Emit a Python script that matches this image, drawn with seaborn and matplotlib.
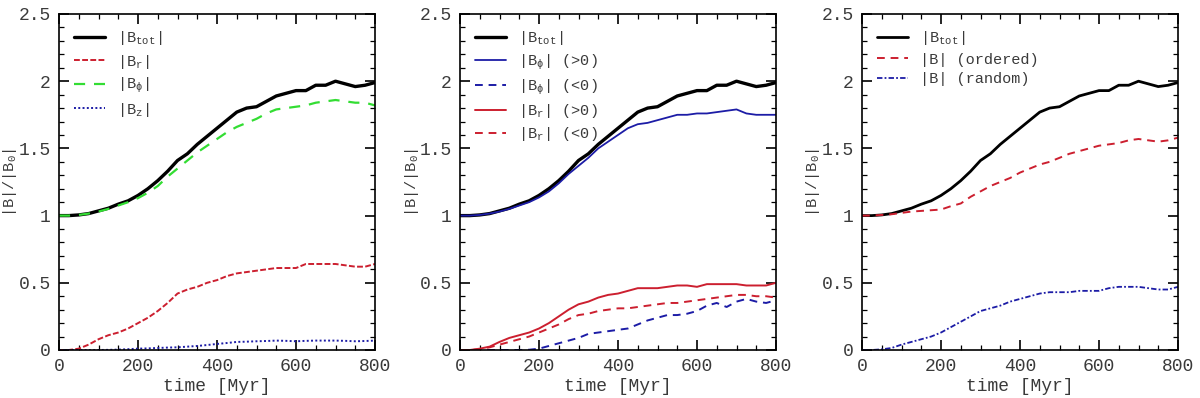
import numpy as np
import pandas as pd
import matplotlib
matplotlib.use("Agg")
import matplotlib.pyplot as plt
from matplotlib.ticker import MultipleLocator, FuncFormatter
import seaborn as sns

# ---------------- data ----------------
time = [0, 25, 50, 75, 100, 125, 150, 175, 200, 225, 250, 275, 300, 325, 350, 375, 400,
        425, 450, 475, 500, 525, 550, 575, 600, 625, 650, 675, 700, 725, 750, 775, 800]

b_tot = [1.00, 1.00, 1.005, 1.015, 1.035, 1.055, 1.085, 1.11, 1.15, 1.20, 1.26, 1.33, 1.41,
         1.46, 1.53, 1.59, 1.65, 1.71, 1.77, 1.80, 1.81, 1.85, 1.89, 1.91, 1.93, 1.93, 1.97,
         1.97, 2.00, 1.98, 1.96, 1.97, 1.99]

# panel 1
b_r = [0.0, 0.0, 0.01, 0.04, 0.08, 0.11, 0.13, 0.16, 0.20, 0.24, 0.29, 0.35, 0.42, 0.45,
       0.47, 0.50, 0.52, 0.55, 0.57, 0.58, 0.59, 0.60, 0.61, 0.61, 0.61, 0.64, 0.64, 0.64,
       0.64, 0.63, 0.62, 0.62, 0.64]
b_phi = [1.00, 1.00, 1.005, 1.015, 1.03, 1.05, 1.075, 1.10, 1.13, 1.17, 1.22, 1.29, 1.35,
         1.41, 1.47, 1.52, 1.57, 1.62, 1.66, 1.69, 1.72, 1.76, 1.79, 1.80, 1.81, 1.82, 1.84,
         1.85, 1.86, 1.85, 1.84, 1.84, 1.82]
b_z = [0.0, 0.0, 0.0, 0.0, 0.0, 0.001, 0.003, 0.006, 0.01, 0.012, 0.015, 0.018, 0.02, 0.025,
       0.03, 0.037, 0.045, 0.052, 0.06, 0.062, 0.065, 0.067, 0.07, 0.068, 0.065, 0.068, 0.07,
       0.07, 0.07, 0.068, 0.065, 0.067, 0.07]

# panel 2
b_phi_pos = [1.00, 1.00, 1.005, 1.015, 1.03, 1.05, 1.075, 1.10, 1.135, 1.18, 1.24, 1.31, 1.37,
             1.43, 1.50, 1.55, 1.60, 1.65, 1.68, 1.69, 1.71, 1.73, 1.75, 1.75, 1.76, 1.76,
             1.77, 1.78, 1.79, 1.76, 1.75, 1.75, 1.75]
b_phi_neg = [0.0, 0.0, 0.0, 0.0, 0.0, 0.0, 0.0, 0.002, 0.01, 0.03, 0.05, 0.07, 0.09, 0.12,
             0.13, 0.14, 0.15, 0.16, 0.19, 0.22, 0.24, 0.26, 0.26, 0.27, 0.29, 0.33, 0.35,
             0.32, 0.36, 0.38, 0.36, 0.35, 0.37]
b_r_pos = [0.0, 0.0, 0.01, 0.025, 0.06, 0.09, 0.11, 0.13, 0.16, 0.20, 0.25, 0.30, 0.34, 0.36,
           0.39, 0.41, 0.42, 0.44, 0.46, 0.46, 0.46, 0.47, 0.48, 0.48, 0.47, 0.49, 0.49, 0.49,
           0.49, 0.48, 0.48, 0.48, 0.50]
b_r_neg = [0.0, 0.0, 0.005, 0.02, 0.04, 0.06, 0.08, 0.10, 0.13, 0.16, 0.19, 0.23, 0.26, 0.27,
           0.29, 0.30, 0.31, 0.31, 0.32, 0.33, 0.34, 0.35, 0.35, 0.36, 0.37, 0.38, 0.39, 0.40,
           0.41, 0.41, 0.40, 0.40, 0.39]

# panel 3
b_ordered = [1.00, 1.00, 1.005, 1.01, 1.02, 1.03, 1.035, 1.04, 1.045, 1.07, 1.09, 1.14, 1.18,
             1.22, 1.25, 1.28, 1.32, 1.35, 1.38, 1.40, 1.43, 1.46, 1.48, 1.50, 1.52, 1.53,
             1.54, 1.56, 1.57, 1.56, 1.55, 1.56, 1.58]
b_random = [0.0, 0.0, 0.005, 0.015, 0.04, 0.06, 0.08, 0.10, 0.13, 0.17, 0.21, 0.25, 0.29, 0.31,
            0.33, 0.36, 0.38, 0.40, 0.42, 0.43, 0.43, 0.43, 0.44, 0.44, 0.44, 0.46, 0.47, 0.47,
            0.47, 0.46, 0.45, 0.45, 0.47]

# ---------------- style ----------------
sns.set_style("ticks")
plt.rcParams['font.family'] = ['Liberation Mono', 'DejaVu Sans Mono']
plt.rcParams['mathtext.fontset'] = 'custom'
plt.rcParams['mathtext.rm'] = 'Liberation Mono'
plt.rcParams['mathtext.it'] = 'Liberation Mono'

TXT = '#3a3a3a'
BLACK = '#000000'
RED = '#cc1f2f'
GREEN = '#33dd33'
BLUE = '#1c1ca6'

fig = plt.figure(figsize=(12, 3.98), dpi=100)
lefts = [59 / 1200, 460 / 1200, 862 / 1200]
axes = [fig.add_axes([l, 48 / 398, 316 / 1200, 336 / 398]) for l in lefts]

df = pd.DataFrame({'time': time})


def draw(ax, y, label, color, lw, dashes=None):
    sns.lineplot(x=df['time'], y=y, ax=ax, color=color, lw=lw, label=label)
    line = ax.get_lines()[-1]
    if dashes is not None:
        line.set_dashes(dashes)
    return line


tot_label = r'|B$_{\mathrm{tot}}$|'

# panel 1
ax = axes[0]
draw(ax, b_tot, tot_label, BLACK, 2.4)
draw(ax, b_r, r'|B$_{\mathrm{r}}$|', RED, 1.4, (3, 1.2))
draw(ax, b_phi, r'|B$_{\phi}$|', GREEN, 1.6, (5, 4))
draw(ax, b_z, r'|B$_{\mathrm{z}}$|', BLUE, 1.4, (1, 1.2))

# panel 2
ax = axes[1]
draw(ax, b_tot, tot_label, BLACK, 2.4)
draw(ax, b_phi_pos, r'|B$_{\phi}$| (>0)', BLUE, 1.3)
draw(ax, b_phi_neg, r'|B$_{\phi}$| (<0)', BLUE, 1.4, (4, 3))
draw(ax, b_r_pos, r'|B$_{\mathrm{r}}$| (>0)', RED, 1.4)
draw(ax, b_r_neg, r'|B$_{\mathrm{r}}$| (<0)', RED, 1.4, (4, 3))

# panel 3
ax = axes[2]
draw(ax, b_tot, tot_label, BLACK, 2.0)
draw(ax, b_ordered, '|B| (ordered)', RED, 1.4, (4, 3))
draw(ax, b_random, '|B| (random)', BLUE, 1.3, (3, 1.2, 1, 1.2))

fmt = FuncFormatter(lambda v, p: '%g' % v)
for ax in axes:
    ax.set_xlim(0, 800)
    ax.set_ylim(0, 2.5)
    ax.xaxis.set_major_locator(MultipleLocator(200))
    ax.xaxis.set_minor_locator(MultipleLocator(50))
    ax.yaxis.set_major_locator(MultipleLocator(0.5))
    ax.yaxis.set_minor_locator(MultipleLocator(0.1))
    ax.yaxis.set_major_formatter(fmt)
    ax.xaxis.set_major_formatter(fmt)
    ax.tick_params(which='both', direction='in', top=True, right=True, color='black',
                   labelcolor=TXT, labelsize=13, pad=6)
    ax.tick_params(which='major', length=7, width=1.2)
    ax.tick_params(which='minor', length=3.5, width=0.9)
    for s in ax.spines.values():
        s.set_color('black')
        s.set_linewidth(1.2)
    ax.set_xlabel('time [Myr]', fontsize=13, color=TXT, labelpad=2)
    ax.set_ylabel(r'|B|/|B$_0$|', fontsize=11, color=TXT)
    ax.yaxis.set_label_coords(-0.125, 0.5)
    leg = ax.legend(loc='upper left', frameon=False, fontsize=11, handlelength=2.0,
                    labelspacing=0.35, borderaxespad=0.6, handletextpad=0.8)
    for t in leg.get_texts():
        t.set_color(TXT)

fig.savefig('out.png', dpi=100)
